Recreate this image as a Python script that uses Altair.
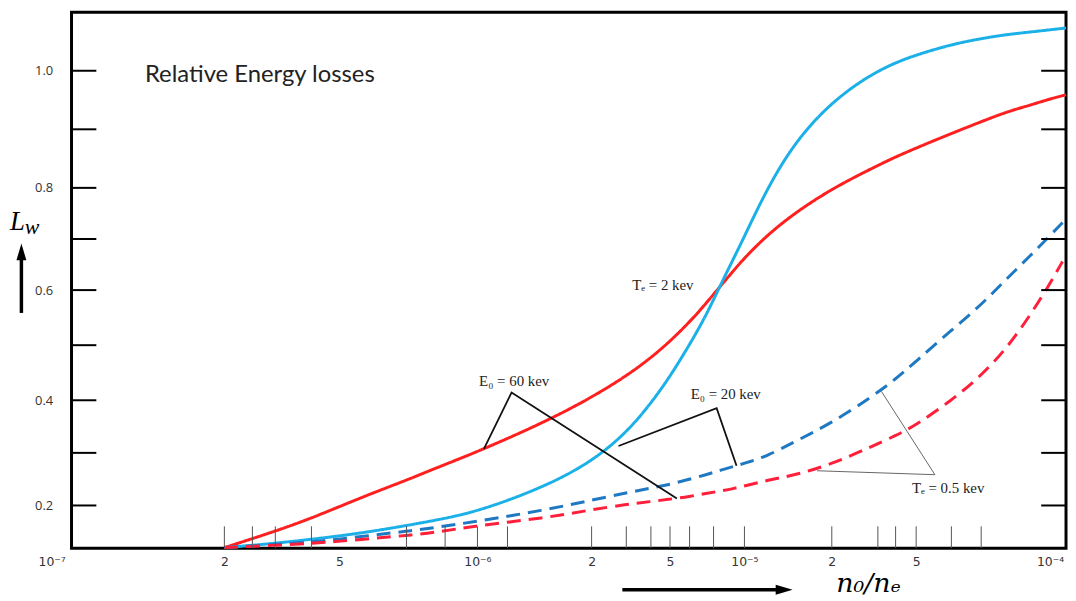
import altair as alt
import pandas as pd

# ---------------- data ----------------
x_common = [2e-7, 3e-7, 4e-7, 5e-7, 6e-7, 7e-7, 8e-7, 1e-6, 1.5e-6, 2e-6,
            3e-6, 4e-6, 5e-6, 6e-6, 7e-6, 8e-6, 9e-6, 1e-5, 1.2e-5, 1.5e-5,
            2e-5, 3e-5, 4e-5, 5e-5, 6e-5, 7e-5, 8e-5, 9e-5, 1e-4]
x_end_solid = 1.13e-4
x_end_dashed = 1.1e-4

red_solid = [0.12, 0.151, 0.176, 0.198, 0.226, 0.248, 0.269, 0.302, 0.358, 0.405,
             0.444, 0.477, 0.507, 0.542, 0.576, 0.608, 0.637, 0.663, 0.708, 0.752,
             0.798, 0.831, 0.853, 0.868, 0.893, 0.913, 0.930, 0.941, 0.952, 0.959]
blue_solid = [0.12, 0.128, 0.136, 0.142, 0.152, 0.162, 0.171, 0.188, 0.235, 0.283,
              0.338, 0.394, 0.443, 0.501, 0.554, 0.610, 0.660, 0.705, 0.800, 0.880,
              0.947, 0.992, 1.014, 1.027, 1.045, 1.055, 1.062, 1.066, 1.070, 1.073]
blue_dashed = [0.12, 0.126, 0.131, 0.136, 0.1445, 0.151, 0.1575, 0.170, 0.191, 0.210,
               0.224, 0.233, 0.240, 0.250, 0.2585, 0.267, 0.274, 0.280, 0.294, 0.322,
               0.357, 0.403, 0.438, 0.471, 0.527, 0.573, 0.623, 0.666, 0.707, 0.732]
red_dashed = [0.12, 0.1244, 0.128, 0.132, 0.138, 0.143, 0.148, 0.162, 0.176, 0.192,
              0.202, 0.2075, 0.212, 0.217, 0.223, 0.2275, 0.232, 0.237, 0.248, 0.258,
              0.2785, 0.310, 0.3325, 0.353, 0.3995, 0.4445, 0.495, 0.553, 0.613, 0.656]

series_names = ["E0=60 keV, Te=2 keV", "E0=20 keV, Te=2 keV",
                "E0=20 keV, Te=0.5 keV", "E0=60 keV, Te=0.5 keV"]
series_colors = ["#ff1f1f", "#1cb0e8", "#1f78c2", "#ff1f3a"]
series_dash = [[1, 0], [1, 0], [14, 8], [14, 8]]

# axis ticks / labels
x_tick_vals = [1e-7, 2e-7, 5e-7, 1e-6, 2e-6, 5e-6, 1e-5, 2e-5, 5e-5, 1e-4]
x_tick_labels = ["10⁻⁷", "2", "5", "10⁻⁶", "2", "5", "10⁻⁵", "2", "5", "10⁻⁴"]
x_minor = [2e-7, 2.5e-7, 3e-7, 4e-7, 7e-7, 8.5e-7, 1e-6, 1.2e-6, 2e-6, 3e-6, 4e-6,
           5e-6, 6e-6, 7.5e-6, 1e-5, 2e-5, 3.3e-5, 4e-5, 5e-5, 6e-5, 7e-5]
y_label_vals = [0.2, 0.4, 0.6, 0.8, 1.0]
y_tick_vals = [0.2, 0.3, 0.4, 0.5, 0.6, 0.7, 0.8, 0.9, 1.0]

# annotations
ann_labels = ["E₀ = 60 kev", "E₀ = 20 kev", "Tₑ = 2 kev", "Tₑ = 0.5 kev"]
ann_x = [1.25e-6, 8.4e-6, 4.6e-6, 5.9e-5]
ann_y = [0.434, 0.411, 0.61, 0.234]

lead_group = ["60", "60", "60", "20", "20", "20", "05", "05", "05"]
lead_x = [1.04e-6, 1.23e-6, 5.33e-6, 2.74e-6, 7.72e-6, 9.29e-6, 3.43e-5, 5.51e-5, 1.78e-5]
lead_y = [0.3076, 0.414, 0.2132, 0.313, 0.385, 0.2755, 0.416, 0.2585, 0.266]

# ---------------- tables ----------------
rows = []
for name, vals in zip(series_names, [red_solid, blue_solid, blue_dashed, red_dashed]):
    xs_ = x_common + ([x_end_solid] if "Te=2" in name else [x_end_dashed])
    for i, (xv, yv) in enumerate(zip(xs_, vals)):
        rows.append({"x": xv, "y": yv, "series": name, "ord": i})
curves = pd.DataFrame(rows)

leaders = pd.DataFrame({"x": lead_x, "y": lead_y, "g": lead_group,
                        "ord": [0, 1, 2] * 3})
ann = pd.DataFrame({"x": ann_x, "y": ann_y, "label": ann_labels})

# ---------------- scales / axes ----------------
W, H = 1002, 540
xs = alt.Scale(type="log",
               domain=[1e-7, 2e-7, 5e-7, 1e-6, 2e-6, 5e-6, 1e-5, 2e-5, 5e-5, 1e-4, 1.13e-4],
               range=[-20, 154, 270, 409, 524, 603, 678, 766, 851, 986, 1002],
               nice=False)
ys = alt.Scale(domain=[0.119, 0.2, 0.4, 0.6, 0.8, 1.0, 1.1],
               range=[540, 497, 391, 280, 177, 59, 0], zero=False, nice=False)

label_expr = f"'{x_tick_labels[-1]}'"
for v, lab in zip(reversed(x_tick_vals[:-1]), reversed(x_tick_labels[:-1])):
    label_expr = f"datum.value < {v * 1.2:g} ? '{lab}' : ({label_expr})"

x_axis = alt.Axis(values=x_tick_vals, labelExpr=label_expr, ticks=False, domain=False,
                  grid=False, labelFlush=False, labelOverlap=False, labelPadding=7,
                  labelFont="DejaVu Sans", labelFontSize=12.5, labelColor="#333", title=None)
y_axis = alt.Axis(values=y_label_vals, format=".1f", ticks=False, domain=False, grid=False,
                  labelFlush=False, labelOverlap=False, labelPadding=19,
                  labelFont="Open Sans", labelFontSize=13, labelColor="#333", title=None)

X = alt.X("x:Q", scale=xs, axis=x_axis)
Y = alt.Y("y:Q", scale=ys, axis=y_axis)

curve_layer = alt.Chart(curves).mark_line(strokeWidth=3, interpolate="basis").encode(
    x=X, y=Y,
    color=alt.Color("series:N", scale=alt.Scale(domain=series_names, range=series_colors), legend=None),
    strokeDash=alt.StrokeDash("series:N", scale=alt.Scale(domain=series_names, range=series_dash), legend=None),
    detail="series:N",
    order="ord:Q",
)

lead_black = alt.Chart(leaders[leaders.g != "05"]).mark_line(color="#111", strokeWidth=1.8).encode(
    x=X, y=Y, detail="g:N", order="ord:Q")
lead_gray = alt.Chart(leaders[leaders.g == "05"]).mark_line(color="#666", strokeWidth=1).encode(
    x=X, y=Y, detail="g:N", order="ord:Q")

ann_layer = alt.Chart(ann).mark_text(font="Liberation Serif, DejaVu Serif, serif", fontSize=15,
                                     color="#222", align="center", baseline="middle").encode(
    x=X, y=Y, text="label:N")

yt = pd.DataFrame({"y": y_tick_vals})
left_ticks = alt.Chart(yt).mark_rule(color="black", strokeWidth=2).encode(
    y=Y, x=alt.value(0), x2=alt.value(25))
right_ticks = alt.Chart(yt).mark_rule(color="black", strokeWidth=2).encode(
    y=Y, x=alt.value(W - 25), x2=alt.value(W))
bottom_ticks = alt.Chart(pd.DataFrame({"x": x_minor})).mark_rule(color="#555", strokeWidth=1).encode(
    x=X, y=alt.value(H - 22), y2=alt.value(H))

one = pd.DataFrame({"a": [0]})
title_t = alt.Chart(one).mark_text(text="Relative Energy losses", font="Lato", fontSize=24,
                                   color="#222", align="left", baseline="middle").encode(
    x=alt.value(74), y=alt.value(63))
lw_L = alt.Chart(one).mark_text(text="L", font="Liberation Serif, DejaVu Serif, serif",
                                fontStyle="italic", fontSize=27, color="black",
                                align="left", baseline="alphabetic").encode(
    x=alt.value(-62), y=alt.value(219))
lw_w = alt.Chart(one).mark_text(text="w", font="Liberation Serif, DejaVu Serif, serif",
                                fontStyle="italic", fontSize=22, color="black",
                                align="left", baseline="alphabetic").encode(
    x=alt.value(-47), y=alt.value(223))
up_shaft = alt.Chart(one).mark_rule(color="black", strokeWidth=3.5).encode(
    x=alt.value(-50.5), y=alt.value(303), y2=alt.value(249))
up_head = alt.Chart(one).mark_point(shape="M-0.5,0.85L0,-0.85L0.5,0.85Z", size=400,
                                    filled=True, color="black", opacity=1).encode(
    x=alt.value(-50.5), y=alt.value(241.5))
x_title = alt.Chart(one).mark_text(text="n₀/nₑ", font="DejaVu Serif, serif", fontStyle="italic",
                                   fontSize=27, color="black", align="center",
                                   baseline="alphabetic").encode(
    x=alt.value(803), y=alt.value(584))
r_shaft = alt.Chart(one).mark_rule(color="black", strokeWidth=3.5).encode(
    x=alt.value(555), x2=alt.value(712), y=alt.value(582))
r_head = alt.Chart(one).mark_point(shape="M-0.85,-0.5L0.85,0L-0.85,0.5Z", size=400,
                                   filled=True, color="black", opacity=1).encode(
    x=alt.value(718), y=alt.value(582))

chart = alt.layer(
    curve_layer, bottom_ticks, left_ticks, right_ticks, lead_black, lead_gray, ann_layer,
    title_t, lw_L, lw_w, up_shaft, up_head, x_title, r_shaft, r_head,
).properties(
    width=W, height=H,
    autosize=alt.AutoSizeParams(type="none"),
    padding={"left": 64, "top": 2, "right": 2, "bottom": 48},
    background="white",
).configure_view(stroke="black", strokeWidth=3)

chart.save("out.html", embed_options={"renderer": "svg", "actions": False})
